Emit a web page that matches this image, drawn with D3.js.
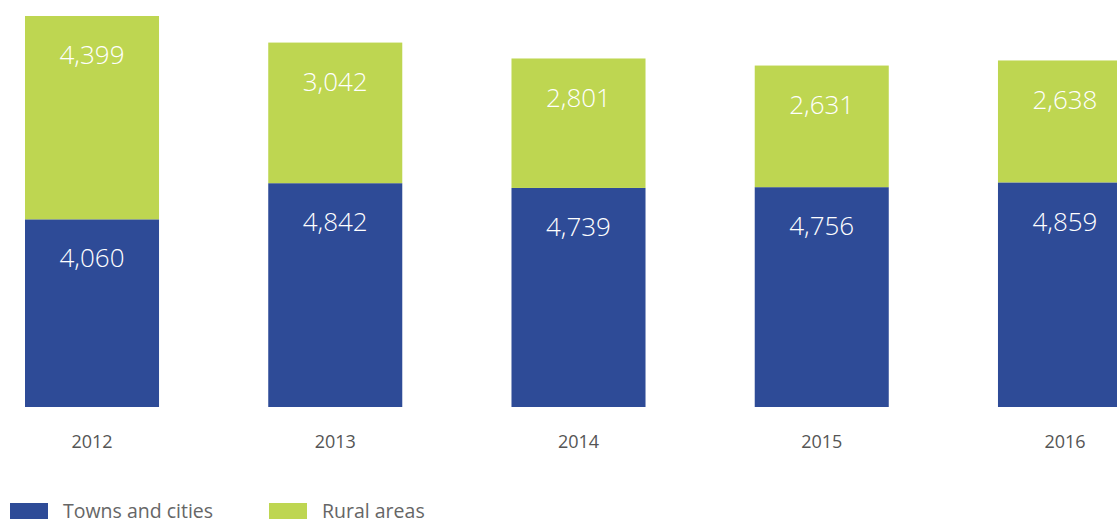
<!DOCTYPE html>
<html>
<head>
<meta charset="utf-8">
<script src="https://cdn.jsdelivr.net/npm/d3@7"></script>
<style>
  body { margin: 0; background: #fff; }
  svg { display: block; font-family: "Open Sans", sans-serif; }
</style>
</head>
<body>
<div id="chart"></div>
<script>
var years = ["2012", "2013", "2014", "2015", "2016"];
var towns = [4060, 4842, 4739, 4756, 4859];
var rural = [4399, 3042, 2801, 2631, 2638];
var seriesNames = ["Towns and cities", "Rural areas"];
var seriesColors = ["#2e4b97", "#bed651"];

var width = 1117,
  height = 521;

var svg = d3.select("#chart")
  .append("svg")
  .attr("width", width)
  .attr("height", height);

var x = d3.scaleBand()
  .domain(years)
  .range([25, 1132])
  .paddingInner(0.449)
  .paddingOuter(0);

var y = d3.scaleLinear()
  .domain([0, 8459])
  .range([407, 16]);

var rows = years.map(function (yr, i) {
  return { year: yr, towns: towns[i], rural: rural[i] };
});
var stack = d3.stack().keys(["towns", "rural"]);
var layers = stack(rows);

var fmt = d3.format(",");

var groups = svg.append("g")
  .selectAll("g")
  .data(layers)
  .enter().append("g")
  .attr("fill", function (d, i) { return seriesColors[i]; });

groups.selectAll("rect")
  .data(function (d) { return d; })
  .enter().append("rect")
  .attr("x", function (d) { return x(d.data.year); })
  .attr("y", function (d) { return y(d[1]); })
  .attr("width", x.bandwidth())
  .attr("height", function (d) { return y(d[0]) - y(d[1]); });

groups.selectAll("text")
  .data(function (d) { return d; })
  .enter().append("text")
  .attr("x", function (d) { return x(d.data.year) + x.bandwidth() / 2; })
  .attr("y", function (d) { return y(d[1]) + 39; })
  .attr("dy", "0.35em")
  .attr("text-anchor", "middle")
  .attr("fill", "#fff")
  .style("font-size", "26px")
  .style("font-weight", 300)
  .text(function (d) { return fmt(d[1] - d[0]); });

// year labels
var xAxis = svg.append("g")
  .attr("transform", "translate(0,407)")
  .call(d3.axisBottom(x).tickSize(0).tickPadding(28));
xAxis.select(".domain").remove();
xAxis.selectAll("text")
  .attr("fill", "#555")
  .style("font-family", "Open Sans, sans-serif")
  .style("font-size", "18px");

// legend
var legend = svg.append("g")
  .selectAll("g")
  .data(seriesNames)
  .enter().append("g")
  .attr("transform", function (d, i) { return "translate(" + (10 + i * 259) + ",503)"; });

legend.append("rect")
  .attr("width", 38)
  .attr("height", 16)
  .attr("fill", function (d, i) { return seriesColors[i]; });

legend.append("text")
  .attr("x", 53)
  .attr("y", 15)
  .attr("fill", "#666")
  .style("font-size", "19.5px")
  .text(function (d) { return d; });
</script>
</body>
</html>
